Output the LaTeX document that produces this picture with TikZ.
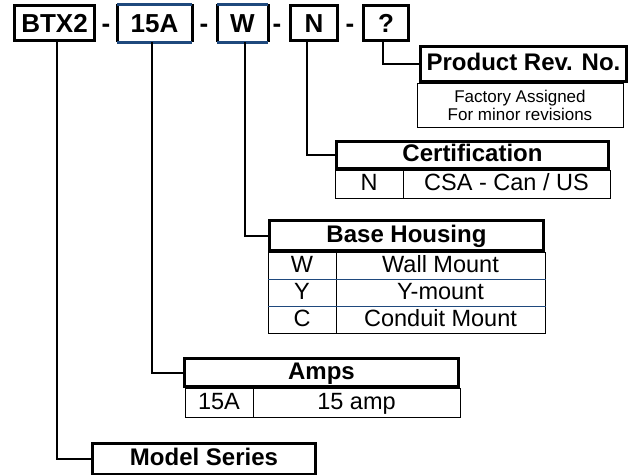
\documentclass[tikz,border=0pt]{standalone}
\usepackage{fontspec}
\setmainfont{Liberation Sans}
\usepackage{xcolor}
\definecolor{codeblue}{RGB}{31,73,125}

\tikzset{
  codebox/.style={rectangle, draw, line width=3pt, inner sep=0pt, minimum height=35pt, text height=19pt, text depth=0pt, font=\fontsize{26}{28}\selectfont\bfseries},
  headbox/.style={rectangle, draw, line width=3.3pt, inner sep=0pt, text height=17.5pt, text depth=4.5pt, font=\fontsize{24}{26}\selectfont\bfseries},
  cellbox/.style={rectangle, draw, line width=1pt, inner sep=0pt, text height=17pt, text depth=4pt, font=\fontsize{23.5}{25}\selectfont},
  link/.style={line width=2pt},
}

\begin{document}
\begin{tikzpicture}[x=1pt, y=-1pt]
            \useasboundingbox (0,0) rectangle (634,474);
            \clip (0,0) rectangle (634,474);

            % Code boxes
            \node[codebox, minimum width=80pt] (btx) at (54.5,23) {BTX2};
            \node[codebox, draw=none, minimum width=72pt] (amp) at (154.5,23) {15A};
            \node[codebox, draw=none, minimum width=48pt] (wall) at (242.5,23) {W};
            \node[codebox, minimum width=47pt] (cert) at (314,23) {N};
            \node[codebox, minimum width=45pt] (rev) at (386,23) {?};
            \foreach \x in {106,204,277,350}
                \node[anchor=base, inner sep=0pt, font=\fontsize{26}{28}\selectfont\bfseries] at (\x,32) {-};
            \foreach \n in {amp,wall} {
                \draw[line width=3pt] (\n.north west) -- (\n.south west) (\n.north east) -- (\n.south east);
                \draw[line width=3pt, codeblue] (\n.north west) -- (\n.north east) (\n.south west) -- (\n.south east);
            }

            % Product revision
            \node[headbox, minimum width=206pt, minimum height=35pt] (revhead) at (523.5,64) {Product Rev. No.};
            \node[cellbox, minimum width=206pt, minimum height=44pt, align=center, text height=, text depth=, font=\fontsize{17}{18}\selectfont] (revnote) at (520,105) {Factory Assigned\\For minor revisions};

            % Certification
            \node[headbox, minimum width=272pt, minimum height=27pt] (certhead) at (472.5,155) {Certification};
            \node[cellbox, minimum width=68pt, minimum height=28pt] (certcode) at (369,184) {N};
            \node[cellbox, minimum width=207pt, minimum height=28pt] (certtext) at (506.5,184) {CSA - Can / US};

            % Base housing
            \node[headbox, minimum width=274pt, minimum height=30pt] (basehead) at (406.5,235.5) {Base Housing};
            \node[cellbox, minimum width=68pt, minimum height=27pt] (basew) at (302,265.5) {W};
            \node[cellbox, minimum width=209pt, minimum height=27pt] (basewt) at (440.5,265.5) {Wall Mount};
            \node[cellbox, minimum width=68pt, minimum height=27pt] (basey) at (302,292.5) {Y};
            \node[cellbox, minimum width=209pt, minimum height=27pt] (baseyt) at (440.5,292.5) {Y-mount};
            \node[cellbox, minimum width=68pt, minimum height=27pt] (basec) at (302,319.5) {C};
            \node[cellbox, minimum width=209pt, minimum height=27pt] (basect) at (440.5,319.5) {Conduit Mount};
            \draw[line width=1pt, codeblue] (basew.south west) -- (basewt.south east);
            \draw[line width=1pt, codeblue] (basey.south west) -- (baseyt.south east);

            % Amps
            \node[headbox, minimum width=274pt, minimum height=28pt] (amphead) at (321.5,372.5) {Amps};
            \node[cellbox, minimum width=68pt, minimum height=29pt] (ampcode) at (219,402.5) {15A};
            \node[cellbox, minimum width=207pt, minimum height=29pt] (amptext) at (356.5,402.5) {15 amp};

            % Model series
            \node[headbox, minimum width=223pt, minimum height=31pt] (modelhead) at (204,459) {Model Series};

            % Edges
            \draw[link] ([xshift=-3pt]rev.south) |- (revhead.west);
            \draw[link] ([xshift=-7pt]cert.south) |- (certhead.west);
            \draw[link] ([xshift=2.5pt]wall.south) |- (basehead.west);
            \draw[link] ([xshift=-2.5pt]amp.south) |- (amphead.west);
            \draw[link] ([xshift=2.5pt]btx.south) |- (modelhead.west);
        \end{tikzpicture}
\end{document}
